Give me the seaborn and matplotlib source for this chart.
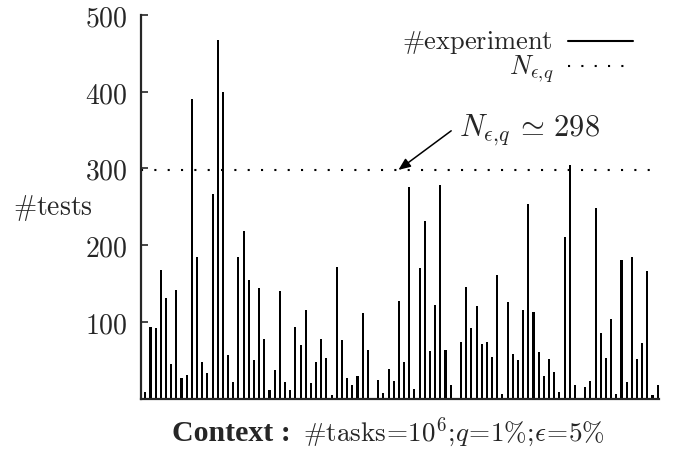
import numpy as np
import pandas as pd
import seaborn as sns
import matplotlib.pyplot as plt

# number of tests for each experiment (100 runs)
tests = [9, 93, 92, 168, 131, 45, 141, 27, 31, 390,
         184, 48, 33, 266, 467, 400, 57, 22, 184, 219,
         154, 50, 144, 77, 11, 37, 140, 22, 11, 93,
         70, 115, 20, 48, 77, 53, 5, 171, 76, 27,
         18, 29, 111, 63, 0, 24, 7, 39, 23, 127,
         48, 276, 13, 170, 231, 62, 122, 279, 63, 18,
         0, 74, 145, 92, 120, 71, 74, 54, 161, 6,
         126, 58, 50, 116, 254, 113, 61, 29, 52, 35,
         9, 210, 305, 18, 0, 15, 23, 249, 85, 53,
         103, 6, 180, 22, 185, 52, 72, 166, 5, 18]
runs = list(range(1, len(tests) + 1))
n_eps_q = 298
ytick_values = [100, 200, 300, 400, 500]

sns.set_theme(style="ticks")
plt.rcParams["mathtext.fontset"] = "cm"
plt.rcParams["font.family"] = ["DejaVu Serif"]

df = pd.DataFrame({"run": runs, "tests": tests})

fig = plt.figure(figsize=(6.8, 4.56), dpi=100)
ax = fig.add_axes([141 / 680, 1 - 399.5 / 456, 518 / 680, 383.5 / 456])

sns.barplot(data=df, x="run", y="tests", native_scale=True, width=0.4,
            color="black", linewidth=0, errorbar=None, ax=ax)

dots = (0, (1, 5.4))
ax.axhline(n_eps_q, color="black", lw=1.5, linestyle=dots)

ax.set_xlim(0.17, 100.25)
ax.set_ylim(0, 500)
ax.set_xticks([])
ax.set_yticks(ytick_values)
ax.set_yticklabels([f"${v}$" for v in ytick_values], fontsize=20)
ax.tick_params(axis="y", direction="in", length=5, width=1.2, pad=10)
sns.despine(ax=ax)
for s in ["left", "bottom"]:
    ax.spines[s].set_linewidth(1.6)
ax.set_xlabel("")
ax.set_ylabel(r"$\#\mathrm{tests}$", rotation=0, fontsize=20, ha="left", va="center")
ax.yaxis.set_label_coords(-0.247, 0.5)

# legend, gnuplot style (text right aligned, sample on the right)
ax.text(0.795, 0.932, r"$\#\mathrm{experiment}$", transform=ax.transAxes,
        ha="right", va="center", fontsize=19)
ax.text(0.797, 0.862, r"$N_{\epsilon,\!q}$", transform=ax.transAxes,
        ha="right", va="center", fontsize=19)
ax.plot([0.824, 0.950], [0.932, 0.932], transform=ax.transAxes, color="black", lw=1.5)
ax.plot([0.824, 0.950], [0.866, 0.866], transform=ax.transAxes, color="black",
        lw=1.5, linestyle=dots)

# annotation of the threshold
ax.annotate("", xy=(49.9, n_eps_q), xytext=(60.1, 349),
            arrowprops=dict(arrowstyle="-|>,head_length=0.6,head_width=0.25",
                            color="black", lw=1.1, shrinkA=0, shrinkB=0))
ax.text(61.6, 351, r"$N_{\epsilon,\!q}\,\simeq\,298$", ha="left", va="center", fontsize=22)

fig.text(291 / 680, 1 - 441 / 456, "Context :", ha="right", va="baseline",
         fontsize=21.5, fontweight="bold", family="Liberation Serif")
fig.text(303 / 680, 1 - 441 / 456,
         r"$\#\mathrm{tasks}\!=\!10^6;\!q\!=\!1\%;\!\epsilon\!=\!5\%$",
         ha="left", va="baseline", fontsize=19.5)

fig.savefig("out.png", dpi=100)
